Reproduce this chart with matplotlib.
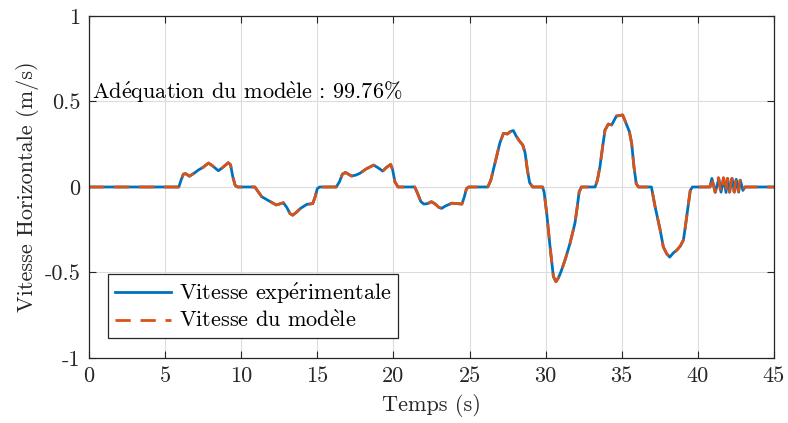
import matplotlib
matplotlib.use("Agg")
import matplotlib.pyplot as plt

plt.rcParams['font.family'] = ['cmr10', 'DejaVu Serif']
plt.rcParams['mathtext.fontset'] = 'cm'
plt.rcParams['axes.formatter.use_mathtext'] = True
plt.rcParams['axes.unicode_minus'] = False

# Common velocity profile (s, m/s)
t_main = [0, 5.9, 6.05, 6.2, 6.35, 6.6, 6.9, 7.2, 7.5, 7.85, 8.1, 8.5, 8.8, 9.15, 9.3, 9.45, 9.6, 9.75,
          10.9, 11.1, 11.35, 11.6, 11.9, 12.3, 12.5, 12.77, 13.0, 13.2, 13.38, 13.6, 13.9, 14.3, 14.7, 14.85, 15.0, 15.15,
          16.25, 16.45, 16.65, 16.85, 17.25, 17.55, 17.8, 18.2, 18.7, 19.0, 19.3, 19.55, 19.82, 19.95, 20.1, 20.3,
          21.4, 21.6, 21.8, 22.0, 22.25, 22.5, 22.75, 23.0, 23.17, 23.4, 23.83, 24.2, 24.5, 24.65, 24.8, 24.95,
          26.2, 26.4, 26.7, 27.0, 27.23, 27.49, 27.7, 27.88, 28.05, 28.27, 28.5, 28.65, 28.8, 28.95, 29.15,
          29.8, 29.9, 30.07, 30.29, 30.51, 30.68, 30.85, 31.05, 31.3, 31.6, 31.93, 32.07, 32.2, 32.35,
          33.25, 33.4, 33.57, 33.75, 33.9, 34.12, 34.34, 34.5, 34.65, 34.85, 35.06, 35.25, 35.5, 35.65, 35.8, 35.95, 36.1,
          36.95, 37.19, 37.52, 37.73, 37.95, 38.15, 38.4, 38.61, 38.85, 39.05, 39.15, 39.27, 39.4, 39.5, 39.65, 40.8]
v_main = [0, 0, 0.04, 0.075, 0.078, 0.063, 0.08, 0.1, 0.115, 0.14, 0.125, 0.095, 0.115, 0.142, 0.13, 0.06, 0.01, 0,
          0, -0.025, -0.057, -0.07, -0.085, -0.105, -0.1, -0.092, -0.12, -0.155, -0.165, -0.15, -0.125, -0.102, -0.097, -0.06, -0.01, 0,
          0, 0.03, 0.075, 0.085, 0.064, 0.07, 0.08, 0.105, 0.128, 0.112, 0.093, 0.115, 0.132, 0.1, 0.03, 0,
          0, -0.04, -0.085, -0.1, -0.097, -0.086, -0.1, -0.12, -0.125, -0.112, -0.095, -0.097, -0.1, -0.06, -0.01, 0,
          0, 0.04, 0.15, 0.26, 0.314, 0.31, 0.325, 0.33, 0.3, 0.27, 0.245, 0.2, 0.1, 0.025, 0,
          0, -0.03, -0.154, -0.35, -0.524, -0.554, -0.53, -0.485, -0.42, -0.33, -0.21, -0.12, -0.03, 0,
          0, 0.04, 0.12, 0.24, 0.333, 0.368, 0.363, 0.39, 0.415, 0.418, 0.421, 0.38, 0.324, 0.256, 0.12, 0.02, 0,
          0, -0.115, -0.25, -0.35, -0.39, -0.41, -0.385, -0.37, -0.345, -0.31, -0.25, -0.17, -0.08, -0.02, 0, 0]

# Final oscillation, measured and modelled
t_osc_exp = [40.92, 41.15, 41.38, 41.52, 41.7, 41.85, 41.96, 42.09, 42.25, 42.4, 42.52, 42.68, 42.79, 42.96, 43.1, 45]
v_osc_exp = [0.05, -0.03, 0.05, -0.03, 0.05, -0.032, 0.05, -0.03, 0.05, -0.03, 0.045, -0.03, 0.04, -0.02, 0, 0]
t_osc_mod = [40.9, 41.13, 41.35, 41.5, 41.68, 41.83, 41.94, 42.07, 42.23, 42.38, 42.5, 42.66, 42.77, 42.94, 43.08, 45]
v_osc_mod = [0.058, -0.032, 0.055, -0.032, 0.055, -0.032, 0.05, -0.03, 0.05, -0.03, 0.045, -0.025, 0.04, -0.015, 0, 0]

fit_percent = 99.76

E_ACUTE = r'$\acute{\mathrm{e}}$'
E_GRAVE = r'$\grave{\mathrm{e}}$'
FS = 16

fig = plt.figure(figsize=(7.88, 4.23), dpi=100)
ax = fig.add_axes([0.1129, 0.1537, 0.8693, 0.8085])

ax.plot(t_main + t_osc_exp, v_main + v_osc_exp, color='#0072BD', lw=2.0,
        label='Vitesse exp' + E_ACUTE + 'rimentale')
ax.plot(t_main + t_osc_mod, v_main + v_osc_mod, color='#D95319', lw=2.0,
        linestyle=(0, (5.5, 3.5)), label='Vitesse du mod' + E_GRAVE + 'le')

ax.set_xlim(0, 45)
ax.set_ylim(-1, 1)
ax.set_xticks(range(0, 46, 5))
ax.set_yticks([-1, -0.5, 0, 0.5, 1])
ax.set_yticklabels(['-1', '-0.5', '0', '0.5', '1'])
ax.set_xticklabels([str(v) for v in range(0, 46, 5)])

ax.grid(True, color='#dcdcdc', lw=0.8)
ax.set_axisbelow(True)
for s in ax.spines.values():
    s.set_color('#262626')
    s.set_linewidth(0.9)
ax.tick_params(direction='in', top=True, right=True, length=5, width=0.8,
               colors='#262626', labelsize=FS, pad=6)

ax.set_xlabel('Temps (s)', fontsize=FS, color='#262626', labelpad=6)
ax.set_ylabel('Vitesse Horizontale (m/s)', fontsize=FS, color='#262626', labelpad=4)

ax.text(0.2, 0.555, 'Ad' + E_ACUTE + 'quation du mod' + E_GRAVE + 'le : %.2f%%' % fit_percent,
        fontsize=FS, va='center', ha='left', color='black')

leg = ax.legend(loc='lower left', bbox_to_anchor=(0.028, 0.058), fontsize=FS,
                frameon=True, fancybox=False, framealpha=1, edgecolor='#262626',
                handlelength=2.55, handletextpad=0.35, borderpad=0.3, labelspacing=0.2,
                borderaxespad=0)
leg.get_frame().set_linewidth(0.9)

fig.savefig('out.png', dpi=100)
